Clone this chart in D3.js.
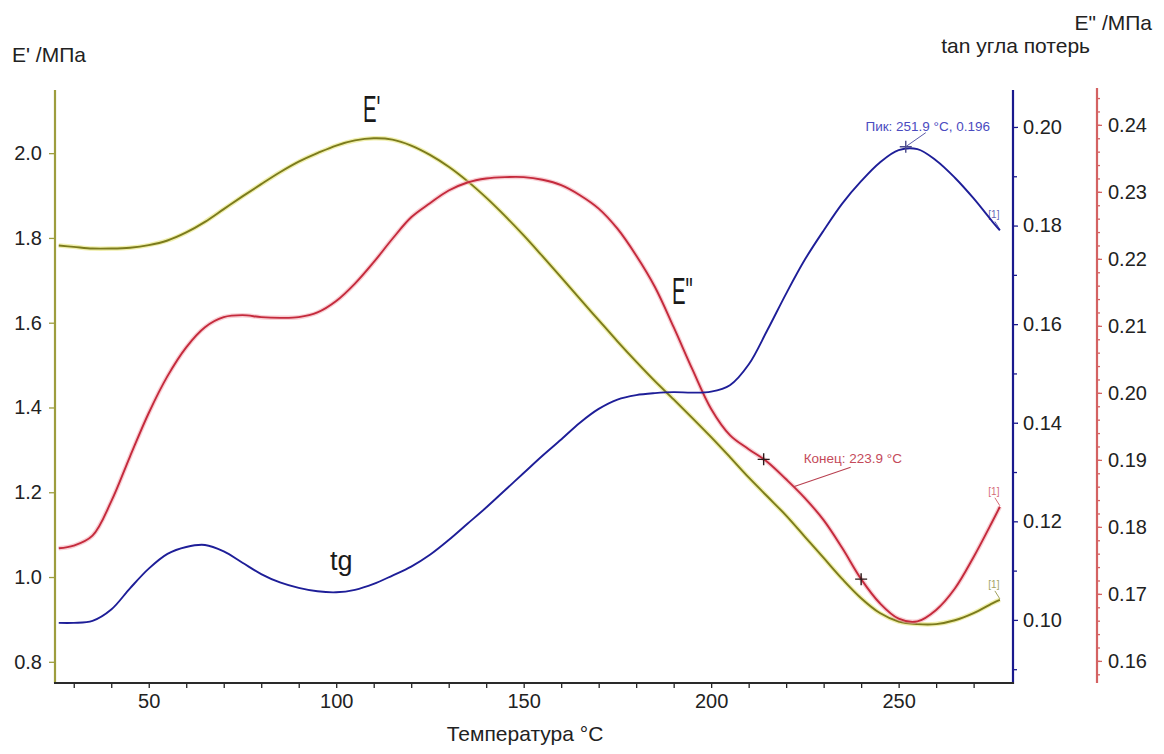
<!DOCTYPE html>
<html>
<head>
<meta charset="utf-8">
<script src="https://cdn.jsdelivr.net/npm/d3@7"></script>
<style>
  body { margin: 0; background: #fff; }
  svg { display: block; font-family: "Liberation Sans", Arial, sans-serif; }
</style>
</head>
<body>
<svg id="chart" width="1164" height="754"></svg>
<script>
const width = 1164;
const height = 754;

// temperature grid, °C
const temps = [26, 30, 35, 40, 45, 50, 55, 60, 65, 70, 75, 80, 85, 90, 95, 100,
  105, 110, 115, 120, 125, 130, 135, 140, 145, 150, 155, 160, 165, 170, 175, 180,
  185, 190, 195, 200, 205, 210, 215, 220, 225, 230, 235, 240, 245, 250, 255, 260,
  265, 270, 275, 277];

// E' (storage modulus), left axis
const storageMod = [1.782, 1.779, 1.775, 1.775, 1.777, 1.783, 1.794, 1.813, 1.838, 1.868,
  1.898, 1.927, 1.955, 1.980, 2.000, 2.018, 2.030, 2.035, 2.032, 2.018, 1.996, 1.968,
  1.934, 1.895, 1.852, 1.806, 1.757, 1.707, 1.656, 1.606, 1.556, 1.508, 1.462, 1.419,
  1.375, 1.330, 1.283, 1.235, 1.190, 1.145, 1.095, 1.045, 0.995, 0.950, 0.915, 0.895,
  0.889, 0.889, 0.898, 0.915, 0.938, 0.946];

// E" (loss modulus), red axis
const lossMod = [0.1768, 0.1772, 0.1787, 0.1838, 0.1905, 0.1970, 0.2025, 0.2068, 0.2098,
  0.2113, 0.2116, 0.2113, 0.2112, 0.2113, 0.2120, 0.2137, 0.2163, 0.2195, 0.2230, 0.2262,
  0.2283, 0.2302, 0.2314, 0.2320, 0.2322, 0.2322, 0.2318, 0.2310, 0.2295, 0.2275, 0.2245,
  0.2205, 0.2158, 0.2098, 0.2035, 0.1976, 0.1937, 0.1916, 0.1897, 0.1871, 0.1843, 0.1810,
  0.1768, 0.1722, 0.1686, 0.1663, 0.1659, 0.1676, 0.1708, 0.1755, 0.1808, 0.1830];

// tan δ, blue axis
const tanDelta = [0.0994, 0.0994, 0.0998, 0.1021, 0.1064, 0.1104, 0.1134, 0.1148, 0.1152,
  0.1139, 0.1116, 0.1093, 0.1076, 0.1065, 0.1058, 0.1056, 0.1061, 0.1073, 0.1090, 0.1108,
  0.1132, 0.1162, 0.1195, 0.1228, 0.1263, 0.1298, 0.1333, 0.1366, 0.1400, 0.1428, 0.1447,
  0.1456, 0.1460, 0.1462, 0.1461, 0.1463, 0.1476, 0.1518, 0.1588, 0.1662, 0.1731, 0.1790,
  0.1845, 0.1890, 0.1928, 0.1953, 0.1955, 0.1932, 0.1897, 0.1855, 0.1808, 0.1790];

const xMinorTicks = d3.range(30, 271, 10);
const storageTicks = [0.8, 1.0, 1.2, 1.4, 1.6, 1.8, 2.0];
const tanTicks = [0.10, 0.12, 0.14, 0.16, 0.18, 0.20];
const tanMinorTicks = [0.09, 0.11, 0.13, 0.15, 0.17, 0.19];
const lossTicks = [0.16, 0.17, 0.18, 0.19, 0.20, 0.21, 0.22, 0.23, 0.24];
const lossMinorTicks = d3.range(0.158, 0.2455, 0.002);

const peak = { t: 251.9, v: 0.196, label: "Пик: 251.9 °C, 0.196" };
const endMarks = [214, 240];
const endLabel = { t: 222, label: "Конец: 223.9 °C" };

const OLIVE = "#7b7b1c";
const OLIVE_AXIS = "#9d9d3e";
const RED = "#c42a3c";
const RED_AXIS = "#d46262";
const BLUE = "#1e1e98";
const BLUE_AXIS = "#1a1a8e";

const plotLeft = 55, plotRight = 1013, plotTop = 90, plotBottom = 683;
const redAxisX = 1097;

const x = d3.scaleLinear().domain([25, 280.5]).range([plotLeft, plotRight]);
const yStorage = d3.scaleLinear().domain([0.75, 2.149]).range([plotBottom, plotTop]);
const yTan = d3.scaleLinear().domain([0.0872, 0.2075]).range([plotBottom, plotTop]);
const yLoss = d3.scaleLinear().domain([0.1567, 0.2455]).range([plotBottom, 88]);

const svg = d3.select("#chart");
svg.append("rect").attr("width", width).attr("height", height).attr("fill", "#fff");

function valueAt(series, t) {
  const i = d3.bisectLeft(temps, t);
  if (temps[i] === t) return series[i];
  const k = (t - temps[i - 1]) / (temps[i] - temps[i - 1]);
  return d3.interpolateNumber(series[i - 1], series[i])(k);
}

function styleAxis(g, color, fontSize) {
  g.select(".domain").remove();
  g.selectAll(".tick line").attr("stroke", color).attr("stroke-width", 1.3);
  g.selectAll(".tick text").attr("fill", "#222").style("font-size", fontSize + "px");
}

// ---- axes ----
// bottom
svg.append("g")
  .attr("transform", `translate(0,${plotBottom})`)
  .call(d3.axisBottom(x).tickValues(xMinorTicks).tickSize(5).tickPadding(6)
    .tickFormat(d => d % 50 === 0 ? d : ""))
  .call(g => styleAxis(g, "#222", 20));

// left E'
svg.append("g")
  .attr("transform", `translate(${plotLeft},0)`)
  .call(d3.axisLeft(yStorage).tickValues(storageTicks).tickSize(6).tickPadding(7)
    .tickFormat(d3.format(".1f")))
  .call(g => styleAxis(g, OLIVE_AXIS, 20));

// blue tan
svg.append("g")
  .attr("transform", `translate(${plotRight},0)`)
  .call(d3.axisRight(yTan).tickValues(tanMinorTicks).tickSize(4).tickFormat(""))
  .call(g => styleAxis(g, BLUE_AXIS, 20));
svg.append("g")
  .attr("transform", `translate(${plotRight},0)`)
  .call(d3.axisRight(yTan).tickValues(tanTicks).tickSize(5).tickPadding(5)
    .tickFormat(d3.format(".2f")))
  .call(g => styleAxis(g, BLUE_AXIS, 20));

// red E"
svg.append("g")
  .attr("transform", `translate(${redAxisX},0)`)
  .call(d3.axisRight(yLoss).tickValues(lossMinorTicks).tickSize(3).tickFormat(""))
  .call(g => styleAxis(g, RED_AXIS, 20));
svg.append("g")
  .attr("transform", `translate(${redAxisX},0)`)
  .call(d3.axisRight(yLoss).tickValues(lossTicks).tickSize(5).tickPadding(6)
    .tickFormat(d3.format(".2f")))
  .call(g => styleAxis(g, RED_AXIS, 20));

// axis lines
svg.append("line").attr("x1", plotLeft).attr("x2", plotLeft).attr("y1", plotTop).attr("y2", plotBottom)
  .attr("stroke", OLIVE_AXIS).attr("stroke-width", 2.2);
svg.append("line").attr("x1", plotRight).attr("x2", plotRight).attr("y1", plotTop).attr("y2", plotBottom + 1)
  .attr("stroke", BLUE_AXIS).attr("stroke-width", 2.2);
svg.append("line").attr("x1", redAxisX).attr("x2", redAxisX).attr("y1", 88).attr("y2", plotBottom)
  .attr("stroke", RED_AXIS).attr("stroke-width", 2.2);
svg.append("line").attr("x1", plotLeft - 1).attr("x2", plotRight + 1).attr("y1", plotBottom).attr("y2", plotBottom)
  .attr("stroke", "#2a2a2a").attr("stroke-width", 2.2);

// axis titles
const titles = [
  { text: "E' /МПа", x: 12, y: 62, anchor: "start" },
  { text: "E\" /МПа", x: 1152, y: 30, anchor: "end" },
  { text: "tan угла потерь", x: 1090, y: 53, anchor: "end" },
  { text: "Температура °C", x: 525, y: 741, anchor: "middle" }
];
svg.selectAll(".title").data(titles).join("text")
  .attr("class", "title")
  .attr("x", d => d.x).attr("y", d => d.y)
  .attr("text-anchor", d => d.anchor)
  .attr("fill", "#222").style("font-size", "21px")
  .text(d => d.text);

// ---- curves ----
const series = [
  { values: storageMod, y: yStorage, color: OLIVE, halo: "#e4e26a" },
  { values: lossMod, y: yLoss, color: RED, halo: "#f3a7b0" },
  { values: tanDelta, y: yTan, color: BLUE, halo: null }
];

series.forEach(s => {
  const line = d3.line()
    .x((d, i) => x(temps[i]))
    .y(d => s.y(d))
    .curve(d3.curveCatmullRom.alpha(0.5));
  if (s.halo) {
    svg.append("path").attr("d", line(s.values)).attr("fill", "none")
      .attr("stroke", s.halo).attr("stroke-width", 4.5).attr("opacity", 0.55);
  }
  svg.append("path").attr("d", line(s.values)).attr("fill", "none")
    .attr("stroke", s.color).attr("stroke-width", 1.9);

  // "[1]" tag at the end of each curve
  const ex = x(temps[temps.length - 1]);
  const ey = s.y(s.values[s.values.length - 1]);
  svg.append("line").attr("x1", ex - 5).attr("y1", ey - 9).attr("x2", ex).attr("y2", ey - 1)
    .attr("stroke", s.color).attr("stroke-width", 1).attr("opacity", 0.7);
  svg.append("text").attr("x", ex - 6).attr("y", ey - 12).attr("text-anchor", "middle")
    .attr("fill", s.color).attr("opacity", 0.7).style("font-size", "10px").text("[1]");
});

// ---- annotations ----
function plus(px, py, color, size) {
  svg.append("path")
    .attr("d", `M${px - size},${py}h${2 * size}M${px},${py - size}v${2 * size}`)
    .attr("stroke", color).attr("stroke-width", 1.4);
}

// tan peak
const pkX = x(peak.t), pkY = yTan(peak.v);
plus(pkX, pkY, "#4a4a8a", 6);
svg.append("line").attr("x1", pkX + 20).attr("y1", pkY - 14).attr("x2", pkX).attr("y2", pkY)
  .attr("stroke", "#5a5aa8").attr("stroke-width", 1);
svg.append("text").attr("x", pkX + 22).attr("y", pkY - 16).attr("text-anchor", "middle")
  .attr("fill", "#4b4bc0").style("font-size", "13.5px").text(peak.label);

// end of E" transition
endMarks.forEach(t => plus(x(t), yLoss(valueAt(lossMod, t)), "#2a1a1a", 6));
const enX = x(endLabel.t), enY = yLoss(valueAt(lossMod, endLabel.t));
const labX = x(endMarks[0]) + 40, labY = yLoss(valueAt(lossMod, endMarks[0])) + 4;
svg.append("line").attr("x1", labX + 47).attr("y1", labY + 4).attr("x2", enX).attr("y2", enY)
  .attr("stroke", "#b84050").attr("stroke-width", 1.1);
svg.append("text").attr("x", labX).attr("y", labY)
  .attr("fill", "#c44a5a").style("font-size", "13.5px").text(endLabel.label);

// curve names
const bigLabels = [
  { text: "E'", x: 363, y: 122, size: 37, sx: 0.55 },
  { text: "E\"", x: 672, y: 304, size: 37, sx: 0.55 },
  { text: "tg", x: 330, y: 570, size: 27, sx: 1 }
];
svg.selectAll(".big").data(bigLabels).join("text")
  .attr("class", "big")
  .attr("transform", d => `translate(${d.x},${d.y}) scale(${d.sx},1)`)
  .attr("fill", "#1a1a1a").style("font-size", d => d.size + "px")
  .text(d => d.text);
</script>
</body>
</html>
